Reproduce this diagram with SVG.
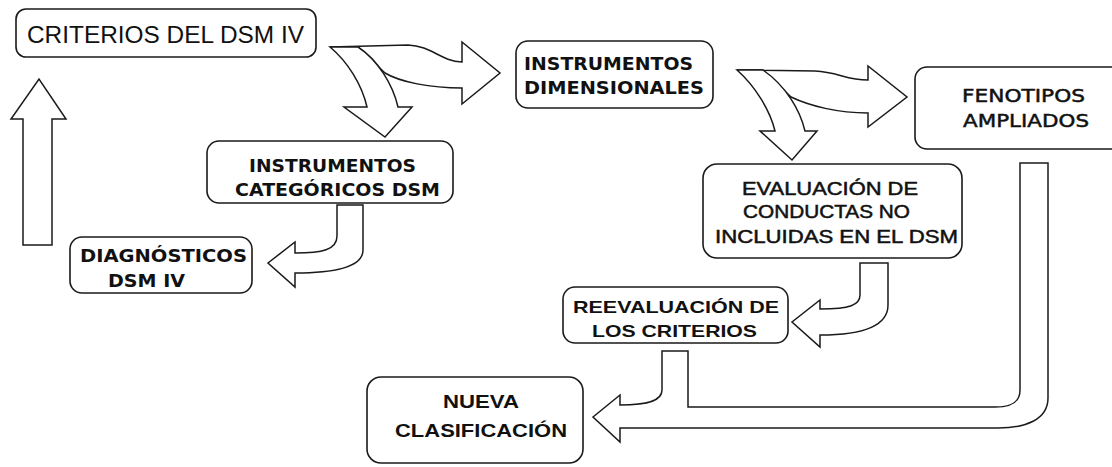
<svg xmlns="http://www.w3.org/2000/svg" width="1112" height="467" viewBox="0 0 1112 467">
<style>
.box{fill:#fff;stroke:#1a1a1a;stroke-width:1.6}
.arr{fill:#fff;stroke:#1a1a1a;stroke-width:1.5;stroke-linejoin:miter}
.t{fill:#111;font-size:18px}
.a{font-family:"Liberation Sans",Arial,sans-serif}
.thick{stroke:#111;stroke-width:0.5}
.v{font-family:"DejaVu Sans",Verdana,sans-serif;font-weight:bold}
.vn{font-family:"DejaVu Sans",Verdana,sans-serif}
.n{font-family:"Liberation Sans Narrow","Liberation Sans",Arial,sans-serif;font-weight:bold}
</style>
<rect width="1112" height="467" fill="#fff"/>
<g id="connectors">
  <path class="arr" d="M23,245 L23,119 L11,119 L39,79 L66,119 L52,119 L52,245 Z"/>
  <path class="arr" d="M330,47 L408,45 C432,46 440,61 462,62 L462,42 L500,73 L462,104 L462,88 C430,88 400,82 385,73 L358,47 Z"/>
  <path class="arr" d="M330,47 C348,62 362,85 367,107 L344,107 L385,137 L412,107 L398,107 C393,85 378,60 358,47 Z"/>
  <path class="arr" d="M737,70 L815,71 C838,72 846,80 868,80 L868,66 L907,97 L868,127 L868,113 C838,113 810,106 791,97 L763,70 Z"/>
  <path class="arr" d="M737,70 C755,86 770,110 775,131 L760,131 L792,160 L817,131 L805,131 C800,110 786,86 763,70 Z"/>
  <path class="arr" d="M337,205 L363,205 L363,250 C363,266 340,273 295,273 L295,287 L268,263 L295,242 L295,253 C322,253 337,250 337,236 Z"/>
  <path class="arr" d="M860,263 L888,263 L888,305 C888,325 865,335 820,335 L820,347 L792,322 L820,300 L820,309 C850,309 860,305 860,295 Z"/>
  <path class="arr" d="M593,417 L620,395 L620,405 C650,405 662,400 662,390 L662,351 L688,351 L688,407 L995,407 C1012,407 1020,402 1020,390 L1020,163 L1048,163 L1048,398 C1048,420 1025,428 998,428 L620,428 L620,442 Z"/>
</g>
<g id="criterios">
  <rect class="box" x="16" y="9" width="300" height="48" rx="10"/>
  <text class="t a" x="27" y="43" style="font-size:23.5px" textLength="277" lengthAdjust="spacingAndGlyphs">CRITERIOS DEL DSM IV</text>
</g>
<g id="categoricos">
  <rect class="box" x="207" y="141" width="246" height="62" rx="12"/>
  <text class="t v" x="249" y="172" textLength="167" lengthAdjust="spacingAndGlyphs">INSTRUMENTOS</text>
  <text class="t v" x="235" y="196" textLength="205" lengthAdjust="spacingAndGlyphs">CATEGÓRICOS DSM</text>
</g>
<g id="diagnosticos">
  <rect class="box" x="70" y="237" width="182" height="56" rx="12"/>
  <text class="t v" x="80" y="262" textLength="167" lengthAdjust="spacingAndGlyphs">DIAGNÓSTICOS</text>
  <text class="t v" x="108" y="287" textLength="77" lengthAdjust="spacingAndGlyphs">DSM IV</text>
</g>
<g id="dimensionales">
  <rect class="box" x="516" y="41" width="197" height="67" rx="12"/>
  <text class="t v" x="524" y="70" textLength="169" lengthAdjust="spacingAndGlyphs">INSTRUMENTOS</text>
  <text class="t v" x="524" y="94" textLength="180" lengthAdjust="spacingAndGlyphs">DIMENSIONALES</text>
</g>
<g id="fenotipos">
  <rect class="box" x="915" y="67" width="230" height="82" rx="12"/>
  <text class="t vn thick" x="962" y="102" style="font-size:18.5px" textLength="123" lengthAdjust="spacingAndGlyphs">FENOTIPOS</text>
  <text class="t vn thick" x="963" y="127" style="font-size:18.5px" textLength="126" lengthAdjust="spacingAndGlyphs">AMPLIADOS</text>
</g>
<g id="evaluacion">
  <rect class="box" x="703" y="164" width="259" height="94" rx="14"/>
  <text class="t a thick" x="742" y="195" style="font-size:18.5px" textLength="176" lengthAdjust="spacingAndGlyphs">EVALUACIÓN DE</text>
  <text class="t a thick" x="743" y="218" style="font-size:18.5px" textLength="167" lengthAdjust="spacingAndGlyphs">CONDUCTAS NO</text>
  <text class="t a thick" x="715" y="243" style="font-size:18.5px" textLength="243" lengthAdjust="spacingAndGlyphs">INCLUIDAS EN EL DSM</text>
</g>
<g id="reevaluacion">
  <rect class="box" x="563" y="287" width="225" height="56" rx="12"/>
  <text class="t n" x="573" y="313" style="font-size:16.5px" textLength="206" lengthAdjust="spacingAndGlyphs">REEVALUACIÓN DE</text>
  <text class="t n" x="592" y="337" style="font-size:16.5px" textLength="165" lengthAdjust="spacingAndGlyphs">LOS CRITERIOS</text>
</g>
<g id="nueva">
  <rect class="box" x="367" y="377" width="216" height="86" rx="14"/>
  <text class="t n" x="443" y="408" style="font-size:19px" textLength="76" lengthAdjust="spacingAndGlyphs">NUEVA</text>
  <text class="t n" x="395" y="437" style="font-size:19px" textLength="172" lengthAdjust="spacingAndGlyphs">CLASIFICACIÓN</text>
</g>
</svg>
